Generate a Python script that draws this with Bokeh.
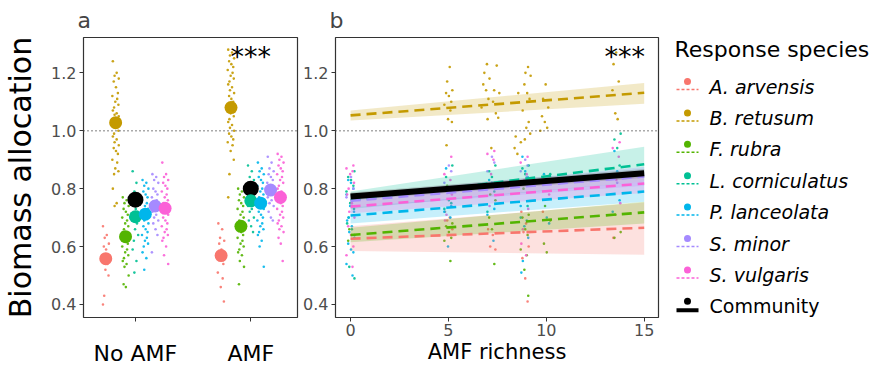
from bokeh.plotting import figure
from bokeh.layouts import row
from bokeh.models import Range1d, FixedTicker, Span, PrintfTickFormatter
from bokeh.core.properties import value
from bokeh.embed import file_html
from bokeh.resources import INLINE

FONT = "DejaVu Sans"

# ---------------- data ----------------
species = ["A. arvensis", "B. retusum", "F. rubra", "L. corniculatus",
           "P. lanceolata", "S. minor", "S. vulgaris"]
colors = ["#F8766D", "#C49A00", "#53B400", "#00C094", "#00B6EB", "#A58AFF", "#FB61D7"]
treatments = ["No AMF", "AMF"]

mean_noamf = [0.558, 1.028, 0.634, 0.703, 0.712, 0.740, 0.732]
mean_amf = [0.569, 1.080, 0.670, 0.758, 0.750, 0.795, 0.770]
community_mean = [0.762, 0.800]

raw_noamf = [
    [0.67, 0.64, 0.63, 0.61, 0.60, 0.59, 0.57, 0.55, 0.54, 0.52, 0.50, 0.43, 0.40],
    [1.24, 1.20, 1.19, 1.18, 1.17, 1.15, 1.13, 1.12, 1.11, 1.10, 1.09, 1.08, 1.07, 1.06,
     1.055, 1.05, 1.04, 1.035, 1.03, 1.02, 1.015, 1.01, 1.00, 0.99, 0.98, 0.97, 0.96,
     0.95, 0.94, 0.93, 0.92, 0.90, 0.89, 0.87, 0.86, 0.85, 0.80, 0.75, 0.74],
    [0.77, 0.76, 0.75, 0.74, 0.73, 0.72, 0.71, 0.70, 0.69, 0.68, 0.67, 0.66, 0.65, 0.645,
     0.64, 0.63, 0.625, 0.62, 0.61, 0.60, 0.59, 0.58, 0.57, 0.56, 0.55, 0.54, 0.53, 0.50,
     0.47, 0.46],
    [0.86, 0.82, 0.79, 0.77, 0.75, 0.73, 0.72, 0.70, 0.68, 0.66, 0.64, 0.62, 0.59, 0.55, 0.51],
    [0.83, 0.82, 0.81, 0.80, 0.79, 0.78, 0.77, 0.76, 0.75, 0.74, 0.73, 0.72, 0.71, 0.70,
     0.69, 0.68, 0.67, 0.66, 0.65, 0.64, 0.63, 0.62, 0.61, 0.60, 0.58, 0.56, 0.52],
    [0.85, 0.84, 0.83, 0.82, 0.80, 0.79, 0.78, 0.77, 0.76, 0.75, 0.74, 0.73, 0.72, 0.71,
     0.70, 0.69, 0.68, 0.66, 0.64, 0.58],
    [0.89, 0.85, 0.84, 0.83, 0.82, 0.81, 0.80, 0.79, 0.78, 0.77, 0.76, 0.75, 0.74, 0.73,
     0.72, 0.71, 0.70, 0.69, 0.68, 0.67, 0.66, 0.65, 0.64, 0.63, 0.62, 0.60, 0.57, 0.54],
]
raw_amf = [
    [0.68, 0.66, 0.63, 0.62, 0.61, 0.59, 0.54, 0.51, 0.49, 0.46, 0.41],
    [1.28, 1.27, 1.26, 1.25, 1.24, 1.23, 1.22, 1.21, 1.20, 1.19, 1.18, 1.17, 1.16, 1.15,
     1.14, 1.13, 1.12, 1.11, 1.10, 1.09, 1.08, 1.06, 1.05, 1.04, 1.03, 1.02, 1.01, 1.00,
     0.99, 0.98, 0.97, 0.96, 0.95, 0.93, 0.90, 0.85, 0.77],
    [0.80, 0.79, 0.78, 0.77, 0.76, 0.75, 0.74, 0.73, 0.72, 0.71, 0.70, 0.69, 0.68, 0.675,
     0.67, 0.665, 0.66, 0.65, 0.64, 0.63, 0.62, 0.61, 0.60, 0.59, 0.58, 0.57, 0.55, 0.53, 0.47],
    [0.88, 0.86, 0.84, 0.83, 0.82, 0.81, 0.80, 0.79, 0.78, 0.77, 0.76, 0.75, 0.74, 0.73,
     0.72, 0.70, 0.69, 0.67, 0.65],
    [0.89, 0.87, 0.86, 0.85, 0.84, 0.83, 0.82, 0.81, 0.80, 0.79, 0.78, 0.77, 0.76, 0.75,
     0.74, 0.73, 0.72, 0.71, 0.70, 0.69, 0.68, 0.67, 0.66, 0.65, 0.64, 0.62, 0.60, 0.53],
    [0.91, 0.89, 0.87, 0.86, 0.85, 0.84, 0.83, 0.82, 0.81, 0.80, 0.79, 0.78, 0.77, 0.76,
     0.75, 0.74, 0.72, 0.70, 0.69],
    [0.92, 0.91, 0.90, 0.89, 0.88, 0.87, 0.86, 0.85, 0.84, 0.83, 0.82, 0.81, 0.80, 0.79,
     0.78, 0.77, 0.76, 0.75, 0.74, 0.73, 0.72, 0.71, 0.70, 0.69, 0.68, 0.67, 0.66, 0.65,
     0.63, 0.61, 0.55],
]

# panel b: fitted lines (at richness 0 and 15) and confidence band limits
richness_ends = [0, 15]
fit_start = [0.627, 1.053, 0.640, 0.760, 0.707, 0.758, 0.738]
fit_end = [0.665, 1.131, 0.718, 0.884, 0.790, 0.842, 0.818]
ci_low = [(0.585, 0.572), (1.035, 1.093), (0.615, 0.680), (0.730, 0.825),
          (0.680, 0.755), (0.735, 0.810), (0.715, 0.785)]
ci_high = [(0.670, 0.752), (1.070, 1.165), (0.665, 0.755), (0.790, 0.945),
           (0.735, 0.825), (0.780, 0.875), (0.760, 0.850)]
community_fit = [0.773, 0.853]
community_ci_low = [0.760, 0.838]
community_ci_high = [0.787, 0.868]

# panel b raw observations: (AMF richness, [values]) per species
b_raw = [
    [(5, [0.72, 0.70, 0.69, 0.66]), (7.2, [0.66, 0.64, 0.60, 0.59]),
     (8.9, [0.72, 0.68, 0.65, 0.60, 0.56, 0.49, 0.41]), (10, [0.72]), (13.6, [0.63])],
    [(5, [1.22, 1.17, 1.14, 1.13, 1.12, 1.10, 1.09, 1.07, 1.04, 1.03, 0.95]),
     (6.9, [1.23, 1.20, 1.18, 1.16, 1.14, 1.11, 1.08, 1.04]),
     (7.4, [1.225, 1.14, 1.13, 1.10, 1.06, 1.045, 0.94]),
     (8.5, [1.13, 0.98, 0.96, 0.94, 0.92]),
     (9.0, [1.22, 1.20, 1.19, 1.16, 1.13, 1.11, 1.07, 1.03, 1.01, 0.99, 0.97]),
     (9.9, [1.16, 1.11, 1.08, 1.05, 1.03, 1.01, 1.00]),
     (13.5, [1.27, 1.23, 1.17, 1.14, 1.06, 1.04])],
    [(0, [0.66, 0.64, 0.62]), (5, [0.81, 0.68, 0.67, 0.65, 0.63, 0.62, 0.55]),
     (7.2, [0.78, 0.76, 0.70, 0.66, 0.54]),
     (8.9, [0.80, 0.71, 0.70, 0.66, 0.64, 0.59, 0.57, 0.52, 0.43]),
     (10, [0.74, 0.69, 0.61, 0.58]), (13.6, [0.71, 0.65, 0.63])],
    [(0, [0.86, 0.84, 0.83, 0.81, 0.79, 0.77, 0.75, 0.73, 0.70, 0.68, 0.66, 0.53, 0.49]),
     (5, [0.88, 0.84, 0.76, 0.75, 0.73]), (7.2, [0.88, 0.86, 0.84, 0.79, 0.72]),
     (8.9, [0.88, 0.87, 0.85, 0.74, 0.70]), (10, [0.85]), (13.6, [0.99, 0.97, 0.94, 0.88])],
    [(0, [0.83, 0.82, 0.80, 0.78, 0.76, 0.74, 0.72, 0.70, 0.69, 0.67, 0.65, 0.63, 0.61,
          0.59, 0.58, 0.54, 0.50]),
     (5, [0.87, 0.80, 0.74, 0.72, 0.70, 0.60]), (7.2, [0.83, 0.82, 0.73, 0.71, 0.62]),
     (8.9, [0.91, 0.86, 0.84, 0.74, 0.69, 0.67, 0.63, 0.55, 0.51]),
     (10, [0.85, 0.70, 0.68]), (13.6, [0.93, 0.86, 0.76, 0.72])],
    [(0, [0.84, 0.80, 0.77, 0.74]), (5, [0.88, 0.86, 0.82]), (7.2, [0.91, 0.89, 0.86]),
     (8.9, [0.90, 0.88, 0.86, 0.84]), (13.6, [0.82])],
    [(0, [0.88, 0.87, 0.86, 0.85, 0.82, 0.80, 0.78, 0.75, 0.72, 0.70, 0.67, 0.64, 0.60,
          0.57, 0.53]),
     (5, [0.91, 0.85, 0.83, 0.80, 0.78, 0.71, 0.69]),
     (7.2, [0.93, 0.92, 0.90, 0.85, 0.80, 0.74]),
     (8.9, [0.91, 0.89, 0.85, 0.83, 0.73, 0.66, 0.61, 0.57]), (10, [0.78]),
     (13.6, [0.96, 0.94, 0.91, 0.83, 0.75])],
]

# ---------------- layout / styling ----------------
JIT = [-0.8, 0.3, -0.3, 0.9, -0.55, 0.1, 0.65, -0.95, 0.45, -0.1, 0.8, -0.45]
DODGE = 0.0857
Y_RANGE = (0.355, 1.322)
TOP = 30          # px above the frames (title)
FRAME_H = 280     # frame height
BOTTOM = 54       # px below the frames  (30 + 280 + 54 = 364)
PAGE_TOP = 8


def style(p):
    p.outline_line_color = "#333333"
    p.outline_line_width = 1.2
    p.grid.visible = False
    for ax in p.axis:
        ax.axis_line_color = None
        ax.major_tick_line_color = "#333333"
        ax.major_tick_out = 4
        ax.major_tick_in = 0
        ax.minor_tick_line_color = None
        ax.major_label_text_font = FONT
        ax.major_label_text_font_size = "16px"
        ax.major_label_text_color = "#4D4D4D"
        ax.major_label_text_line_height = 1.0
        ax.axis_label_text_font = FONT
        ax.axis_label_text_font_style = "normal"
        ax.axis_label_text_color = "black"
        ax.axis_label_text_line_height = 1.0
    p.yaxis.ticker = FixedTicker(ticks=[0.4, 0.6, 0.8, 1.0, 1.2])
    p.yaxis.formatter = PrintfTickFormatter(format="%.1f")
    p.yaxis.major_label_standoff = 3
    p.title.text_font = FONT
    p.title.text_font_size = "22px"
    p.title.text_font_style = "normal"
    p.title.align = "left"
    p.title.offset = -6
    p.title.standoff = 10
    p.add_layout(Span(location=1.0, dimension="width", line_color="#555555",
                      line_dash="1 3", line_width=1.3))


# ---------------- panel a ----------------
pa = figure(frame_width=214, frame_height=FRAME_H, x_range=Range1d(0.55, 2.405),
            y_range=Range1d(*Y_RANGE), toolbar_location=None, output_backend="svg",
            min_border_left=75, min_border_right=3, min_border_top=TOP,
            min_border_bottom=BOTTOM, title="a")
style(pa)
pa.xaxis.ticker = FixedTicker(ticks=[1, 2])
pa.xaxis.major_label_overrides = {1: treatments[0], 2: treatments[1]}
pa.xaxis.major_label_text_font_size = "22px"
pa.xaxis.major_label_text_color = "black"
pa.xaxis.major_label_standoff = 19
pa.yaxis.axis_label = "Biomass allocation"
pa.yaxis.axis_label_text_font_size = "30px"
pa.yaxis.axis_label_standoff = 10

for t, raw in enumerate([raw_noamf, raw_amf]):
    for i, vals in enumerate(raw):
        cx = t + 1 + (i - 3) * DODGE
        xs = [cx + JIT[k % len(JIT)] * 0.03 for k in range(len(vals))]
        pa.scatter(xs, vals, size=2.6, color=colors[i], alpha=0.9, line_color=None)

pa.scatter([1, 2], community_mean, size=16, color="black", line_color=None)
for t, means in enumerate([mean_noamf, mean_amf]):
    for i, m in enumerate(means):
        pa.scatter([t + 1 + (i - 3) * DODGE], [m], size=13, color=colors[i], line_color=None)

pa.text(x=[2], y=[1.255], text=["***"], text_font=value(FONT), text_font_size="27px",
        text_align="center", text_baseline="middle", text_color="black")

# ---------------- panel b ----------------
pb = figure(frame_width=323, frame_height=FRAME_H, x_range=Range1d(-0.77, 15.73),
            y_range=Range1d(*Y_RANGE), toolbar_location=None, output_backend="svg",
            min_border_left=33, min_border_right=8, min_border_top=TOP,
            min_border_bottom=BOTTOM, title="b")
style(pb)
pb.xaxis.ticker = FixedTicker(ticks=[0, 5, 10, 15])
pb.xaxis.axis_label = "AMF richness"
pb.xaxis.axis_label_text_font_size = "21px"
pb.xaxis.axis_label_standoff = 1
pb.xaxis.major_label_standoff = 2

for i, groups in enumerate(b_raw):
    xs, ys = [], []
    for r, vals in groups:
        for k, v in enumerate(vals):
            xs.append(r + JIT[(k + i) % len(JIT)] * 0.22)
            ys.append(v)
    pb.scatter(xs, ys, size=2.6, color=colors[i], alpha=0.9, line_color=None)

for i in range(len(species)):
    pb.varea(x=richness_ends, y1=list(ci_low[i]), y2=list(ci_high[i]),
             fill_color=colors[i], fill_alpha=0.22)
pb.varea(x=richness_ends, y1=community_ci_low, y2=community_ci_high,
         fill_color="#666666", fill_alpha=0.3)
for i in range(len(species)):
    pb.line(richness_ends, [fit_start[i], fit_end[i]], line_color=colors[i],
            line_width=2.6, line_dash="10 6")
pb.line(richness_ends, community_fit, line_color="black", line_width=6)

pb.text(x=[14.0], y=[1.255], text=["***"], text_font=value(FONT), text_font_size="27px",
        text_align="center", text_baseline="middle", text_color="black")

# ---------------- legend panel (page-pixel coordinates inside its frame) ----------------
f_top = PAGE_TOP + TOP
f_bot = f_top + FRAME_H
pl = figure(frame_width=216, frame_height=FRAME_H, x_range=Range1d(665, 881),
            y_range=Range1d(f_bot, f_top), toolbar_location=None, output_backend="svg",
            x_axis_type=None, y_axis_type=None, min_border_left=0, min_border_right=0,
            min_border_top=TOP, min_border_bottom=BOTTOM, outline_line_color=None)
pl.grid.visible = False
pl.text(x=[673], y=[50], text=["Response species"], text_font=value(FONT),
        text_font_size="22px", text_baseline="middle", text_align="left",
        text_color="black")
labels = species + ["Community"]
lcolors = colors + ["black"]
rows_y = [87 + 31.4 * k for k in range(len(labels))]
for k, (lab, c) in enumerate(zip(labels, lcolors)):
    y = rows_y[k]
    pl.scatter([686], [y - 5], size=7, color=c, line_color=None)
    if lab == "Community":
        pl.line([675, 697], [y + 4, y + 4], line_color=c, line_width=4)
    else:
        pl.line([675, 697], [y + 3, y + 3], line_color=c, line_width=1.5, line_dash="3 2")
    pl.text(x=[708], y=[y], text=[lab], text_font=value(FONT), text_font_size="19px",
            text_font_style="normal" if lab == "Community" else "italic",
            text_baseline="middle", text_align="left", text_color="black")

layout = row(pa, pb, pl)
open("out.html", "w").write(file_html(layout, INLINE))
